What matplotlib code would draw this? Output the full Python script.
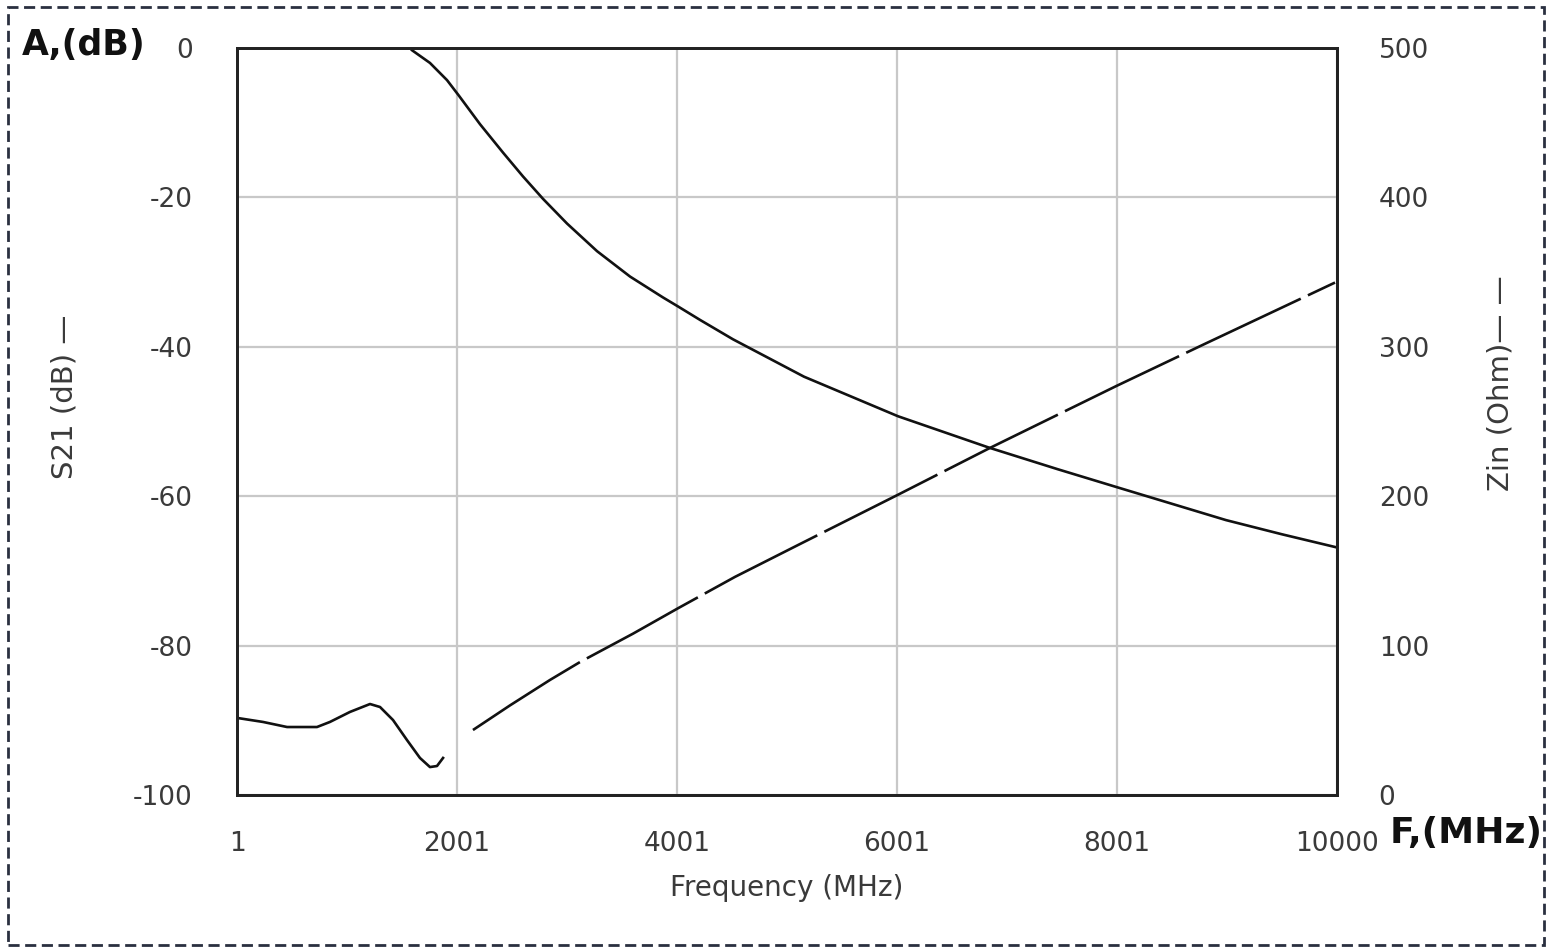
import matplotlib
matplotlib.use("Agg")
from matplotlib import pyplot as plt
from matplotlib.patches import Rectangle
import numpy as np

plt.rcParams["axes.unicode_minus"] = False

# S21 (left axis, dB), solid line
s21_freq = [1592, 1755, 1910, 2019, 2210, 2419, 2601, 2783, 3001, 3274, 3574, 3874, 4010, 4210,
            4510, 5155, 6010, 6837, 7464, 8001, 8991, 9500, 9982]
s21_db = [-0.3, -2.0, -4.3, -6.4, -10.2, -14.0, -17.2, -20.2, -23.5, -27.2, -30.6, -33.4, -34.6, -36.4,
          -39.0, -44.0, -49.3, -53.5, -56.4, -58.8, -63.2, -65.1, -66.8]

# Zin (right axis, Ohm) - low band piece
zin_lo_freq = [10, 237, 456, 728, 846, 1028, 1210, 1301, 1419, 1546, 1664, 1755, 1819, 1874]
zin_lo_ohm = [51.5, 48.9, 45.5, 45.5, 48.9, 55.6, 60.9, 58.9, 50.2, 36.8, 24.8, 18.7, 19.4, 24.8]
# Zin - upper band piece (dashed)
zin_hi_freq = [2146, 2483, 2846, 3119, 3601, 4010, 4528, 5119, 6010, 6837, 8001, 8800, 9982]
zin_hi_ohm = [43.5, 60, 77, 89, 108, 125, 146, 168, 201, 232, 274, 302, 343]

xticks = [1, 2001, 4001, 6001, 8001, 10000]
yticks_left = [0, -20, -40, -60, -80, -100]
yticks_right = [500, 400, 300, 200, 100, 0]

fig = plt.figure(figsize=(15.49, 9.51), dpi=100)
ax = fig.add_axes([237/1549, 1-795/951, 1100/1549, 747/951])
ax2 = ax.twinx()

ax.set_xlim(1, 10000)
ax.set_ylim(-100, 0)
ax2.set_ylim(0, 500)

ax.grid(True, color="#c8c8c8", linewidth=1.6)
ax.set_axisbelow(True)

ax.plot(s21_freq, s21_db, color="#111111", linewidth=1.9)

ax2.plot(zin_lo_freq, zin_lo_ohm, color="#111111", linewidth=1.9, linestyle="-")
ax2.plot(zin_hi_freq, zin_hi_ohm, color="#111111", linewidth=1.9, linestyle=(0, (48, 3)))

ax.set_xticks(xticks)
ax.set_xticklabels([str(v) for v in xticks])
ax.set_yticks(yticks_left)
ax2.set_yticks(yticks_right)

tick_col = "#3a3a3a"
ax.tick_params(axis="x", length=0, pad=26, labelsize=19, labelcolor=tick_col)
ax.tick_params(axis="y", length=0, pad=32, labelsize=19, labelcolor=tick_col)
ax2.tick_params(axis="y", length=0, pad=30, labelsize=19, labelcolor=tick_col)

for a in (ax, ax2):
    for s in a.spines.values():
        s.set_linewidth(2.0)
        s.set_color("#222222")

ax.set_xlabel("Frequency (MHz)", fontsize=20, color=tick_col, labelpad=12)
fig.text(65/1549, 1-397/951, "S21 (dB) \u2014", rotation=90, fontsize=21,
         color=tick_col, ha="center", va="center")
fig.text(1500/1549, 1-383/951, "Zin (Ohm)\u2014 \u2014", rotation=90, fontsize=21,
         color=tick_col, ha="center", va="center")

fig.text(22/1549, 1-45/951, "A,(dB)", fontsize=25, fontweight="bold",
         color="#111111", ha="left", va="center")
fig.text(1390/1549, 1-833/951, "F,(MHz)", fontsize=26, fontweight="bold",
         color="#111111", ha="left", va="center")

# dashed frame round the whole picture
fig.patches.append(Rectangle((8/1549, 6/951), 1536/1549, 938/951, transform=fig.transFigure,
                             fill=False, edgecolor="#2a3040", linewidth=2.0,
                             linestyle=(0, (4, 2))))

fig.savefig("out.png", dpi=100)
